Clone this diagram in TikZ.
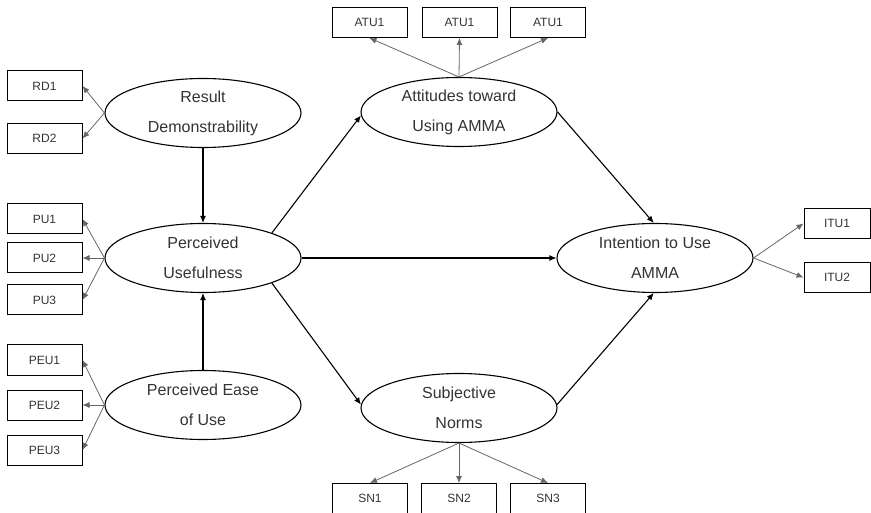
\documentclass[tikz,border=0pt]{standalone}
\usepackage{fontspec}
\setmainfont{Liberation Sans}
\usetikzlibrary{shapes.geometric,arrows.meta}
\begin{document}
\begin{tikzpicture}[x=1pt,y=-1pt,
  latent/.style={draw=black,line width=1.1pt,ellipse,inner sep=0pt,minimum width=196pt,minimum height=69pt,
    align=center,font=\fontsize{16}{30}\selectfont,text=black!80},
  ind/.style={draw=black,line width=1pt,rectangle,inner sep=0pt,minimum width=75pt,minimum height=30pt,
    font=\fontsize{12}{14}\selectfont,text=black!80},
  path/.style={draw=black,line width=1.1pt,-{Latex[length=7pt,width=6pt]}},
  load/.style={draw=black!60,line width=0.8pt,-{Latex[length=7pt,width=6pt]}}]
\useasboundingbox (0,0) rectangle (871,513);
% latent constructs
\node[latent] (rd)  at (203,113) {Result\\Demonstrability};
\node[latent] (pu)  at (203,258) {Perceived\\Usefulness};
\node[latent] (peu) at (203,405) {Perceived Ease\\of Use};
\node[latent] (atu) at (459,112) {Attitudes toward\\Using AMMA};
\node[latent] (sn)  at (459,408) {Subjective\\Norms};
\node[latent] (itu) at (655,258) {Intention to Use\\AMMA};
% indicators
\node[ind] (rd1) at (44.5,86) {RD1};
\node[ind] (rd2) at (44.5,138.5) {RD2};
\node[ind] (pu1) at (44.5,219) {PU1};
\node[ind] (pu2) at (44.5,258) {PU2};
\node[ind] (pu3) at (44.5,300) {PU3};
\node[ind] (peu1) at (44.5,360) {PEU1};
\node[ind] (peu2) at (44.5,405) {PEU2};
\node[ind] (peu3) at (44.5,450) {PEU3};
\node[ind] (atu1) at (369.5,22.5) {ATU1};
\node[ind] (atu2) at (459.5,22.5) {ATU1};
\node[ind] (atu3) at (548,22.5) {ATU1};
\node[ind] (sn1) at (370,498.5) {SN1};
\node[ind] (sn2) at (459,498.5) {SN2};
\node[ind] (sn3) at (548,498.5) {SN3};
\node[ind,minimum width=66pt] (itu1) at (837,223.5) {ITU1};
\node[ind,minimum width=66pt] (itu2) at (837,277.5) {ITU2};
% structural paths
\draw[path] (rd.south) -- (pu.north);
\draw[path] (peu.north) -- (pu.south);
\draw[path] (pu.20) -- (atu.182);
\draw[path] (pu.east) -- (itu.west);
\draw[path] (pu.-20) -- (sn.178);
\draw[path] (atu.east) -- (itu.92);
\draw[path] (sn.2) -- (itu.268);
% loadings
\draw[load] (rd.west) -- (rd1.east);
\draw[load] (rd.west) -- (rd2.east);
\draw[load] (pu.west) -- (pu1.east);
\draw[load] (pu.west) -- (pu2.east);
\draw[load] (pu.west) -- (pu3.east);
\draw[load] (peu.west) -- (peu1.east);
\draw[load] (peu.west) -- (peu2.east);
\draw[load] (peu.west) -- (peu3.east);
\draw[load] (atu.north) -- (atu1.south);
\draw[load] (atu.north) -- (atu2.south);
\draw[load] (atu.north) -- (atu3.south);
\draw[load] (sn.south) -- (sn1.north);
\draw[load] (sn.south) -- (sn2.north);
\draw[load] (sn.south) -- (sn3.north);
\draw[load] (itu.east) -- (itu1.west);
\draw[load] (itu.east) -- (itu2.west);
\end{tikzpicture}
\end{document}
